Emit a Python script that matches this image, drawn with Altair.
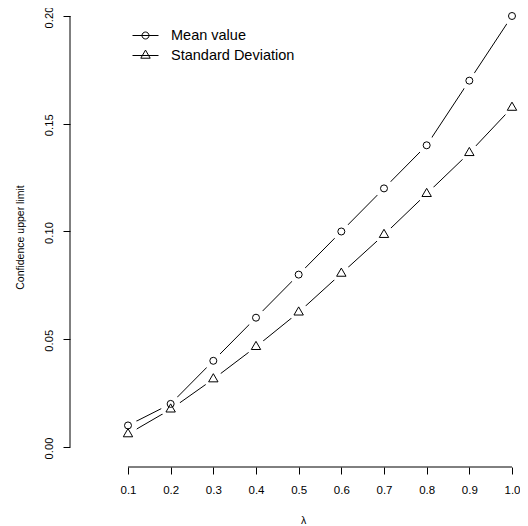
import altair as alt
import pandas as pd

# ---- data ----
lam = [0.1, 0.2, 0.3, 0.4, 0.5, 0.6, 0.7, 0.8, 0.9, 1.0]
mean_vals = [0.010, 0.020, 0.040, 0.060, 0.080, 0.100, 0.120, 0.140, 0.170, 0.200]
sd_vals = [0.006, 0.0175, 0.0315, 0.0465, 0.0625, 0.0805, 0.0985, 0.1175, 0.1365, 0.1575]
series = ["Mean value", "Standard Deviation"]
x_ticks = [0.1, 0.2, 0.3, 0.4, 0.5, 0.6, 0.7, 0.8, 0.9, 1.0]
y_ticks = [0.00, 0.05, 0.10, 0.15, 0.20]

df = pd.DataFrame({
    "lam": lam + lam,
    "val": mean_vals + sd_vals,
    "series": [series[0]] * len(lam) + [series[1]] * len(lam),
})

FONT = "Liberation Sans"
W, H = 450, 457

xs = alt.Scale(domain=[-0.0359, 1.01875], nice=False, zero=False)
ys = alt.Scale(domain=[-0.00928, 0.20278], nice=False, zero=False)

x_axis = alt.Axis(values=x_ticks, format=".1f", domain=False, grid=False,
                  tickSize=7, tickColor="black", tickWidth=1,
                  labelColor="black", labelFontSize=11.5, labelFont=FONT, labelPadding=10,
                  title="λ", titleFont=FONT, titleFontSize=10.5, titleFontWeight="normal",
                  titleColor="black", titleX=233, titleY=53, titleAlign="center",
                  titleBaseline="middle")
y_axis = alt.Axis(values=y_ticks, format=".2f", domain=False, grid=False,
                  tickSize=7, tickColor="black", tickWidth=1,
                  labelColor="black", labelFontSize=11.2, labelFont=FONT, labelPadding=9,
                  labelAngle=270, labelAlign="center", labelBaseline="bottom",
                  labelOffset=1,
                  title="Confidence upper limit", titleFont=FONT, titleFontSize=10.5,
                  titleFontWeight="normal", titleColor="black", titleAngle=270,
                  titleX=-50, titleY=227, titleAlign="center", titleBaseline="middle")

X = alt.X("lam:Q", scale=xs, axis=x_axis)
Y = alt.Y("val:Q", scale=ys, axis=y_axis)

base = alt.Chart(df)

lines = base.mark_line(color="black", strokeWidth=1).encode(x=X, y=Y, detail="series:N")

halos = base.mark_circle(color="white", opacity=1, size=361).encode(x=X, y=Y)

tri_path = "M0,-1L-0.866,0.5L0.866,0.5Z"
circles = base.transform_filter(alt.datum.series == series[0]).mark_point(
    filled=False, color="black", strokeWidth=1, opacity=1, size=49, shape="circle"
).encode(x=X, y=Y)
triangles = base.transform_filter(alt.datum.series == series[1]).mark_point(
    filled=False, color="black", strokeWidth=1, opacity=1, size=118, shape=tri_path
).encode(x=X, y=Y)

circ_leg = "M-1,0L1,0M-0.269,0A0.269,0.269,0,1,1,0.269,0A0.269,0.269,0,1,1,-0.269,0"
tri_leg = "M-1,0L1,0M0,-0.418L-0.362,0.209L0.362,0.209Z"

legend_layer = base.mark_point(filled=False, color="black", opacity=0).encode(
    x=X, y=Y,
    shape=alt.Shape("series:N",
                    scale=alt.Scale(domain=series, range=[circ_leg, tri_leg]),
                    legend=alt.Legend(orient="none", legendX=62, legendY=12, title=None,
                                      symbolSize=676, symbolStrokeWidth=1,
                                      symbolStrokeColor="black", symbolFillColor="transparent",
                                      symbolOpacity=1, labelFont=FONT, labelFontSize=14.5,
                                      labelColor="black", labelOffset=12, rowPadding=-13,
                                      padding=0)),
)

axis_df = pd.DataFrame({"lam": [x_ticks[0]], "lam2": [x_ticks[-1]],
                        "val": [y_ticks[0]], "val2": [y_ticks[-1]]})
x_line = alt.Chart(axis_df).mark_rule(color="black", strokeWidth=1).encode(
    x=X, x2="lam2:Q", y=alt.value(H))
y_line = alt.Chart(axis_df).mark_rule(color="black", strokeWidth=1).encode(
    y=Y, y2="val2:Q", x=alt.value(0))

chart = alt.layer(lines, halos, circles, triangles, legend_layer, x_line, y_line).properties(
    width=W, height=H,
    autosize=alt.AutoSizeParams(type="none"),
    padding={"left": 62, "top": 2, "right": 0, "bottom": 58},
    background="white",
).configure_view(stroke=None)

chart.save("out.html", embed_options={"renderer": "svg", "actions": False})
